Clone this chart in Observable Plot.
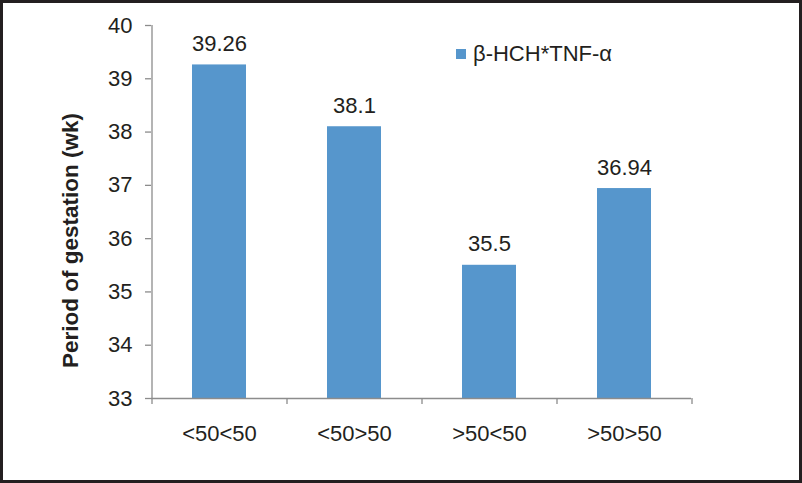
<!DOCTYPE html>
<html>
<head>
<meta charset="utf-8">
<script src="https://cdn.jsdelivr.net/npm/d3@7"></script>
<script src="https://cdn.jsdelivr.net/npm/@observablehq/plot@0.6"></script>
<style>
  html, body { margin: 0; padding: 0; background: #fff; }
  #wrap { position: relative; width: 802px; height: 483px; }
  #wrap svg { display: block; outline: 3px solid #231f20; outline-offset: -3px; }
  #legend { position: absolute; left: 456px; top: 41px; font: 22px "Liberation Sans", Arial, sans-serif; color: #231f20; display: flex; align-items: center; }
  #legend .sw { width: 10px; height: 10px; background: #5696cc; margin-right: 7px; }
</style>
</head>
<body>
<div id="wrap"></div>
<script>
const categories = ["<50<50", "<50>50", ">50<50", ">50>50"];
const values = [39.26, 38.1, 35.5, 36.94];
const labels = ["39.26", "38.1", "35.5", "36.94"];
const yTicks = [33, 34, 35, 36, 37, 38, 39, 40];
const seriesName = "β-HCH*TNF-α";
const yLabel = "Period of gestation (wk)";

const data = categories.map((c, i) => ({cat: c, v: values[i], label: labels[i]}));
const color = "#5696cc";
const axisColor = "#8c8c8c";
const textColor = "#231f20";

const W = 802, H = 483, mL = 151, mR = 111;
const plotW = W - mL - mR;
const step = plotW / categories.length;
const tickLen = 6;

const chart = Plot.plot({
  width: W,
  height: H,
  marginLeft: mL,
  marginRight: mR,
  marginTop: 25,
  marginBottom: 85,
  style: {fontFamily: "'Liberation Sans', Arial, sans-serif", fontSize: "22px", color: textColor, background: "#fff"},
  x: {domain: categories, paddingInner: 0.6, paddingOuter: 0.3, axis: null},
  y: {domain: [33, 40], axis: null},
  marks: [
    Plot.barY(data, {x: "cat", y1: 33, y2: "v", fill: color}),
    // y axis line
    Plot.ruleX([categories[0]], {x: d => d, dx: -step / 2, y1: 33, y2: 40, stroke: axisColor, strokeWidth: 1.3}),
    // y ticks
    Plot.ruleY(yTicks, {y: d => d, insetRight: plotW - tickLen, dx: -tickLen, stroke: axisColor, strokeWidth: 1.3}),
    Plot.text(yTicks, {y: d => d, text: d => String(d), frameAnchor: "left", textAnchor: "end", dx: -19, fill: textColor, fontSize: 22}),
    // x axis line
    Plot.ruleY([33], {stroke: axisColor, strokeWidth: 1.3}),
    // category boundary ticks
    Plot.ruleX(categories, {x: d => d, y1: 33, y2: 33, insetBottom: -tickLen, dx: -step / 2, stroke: axisColor, strokeWidth: 1.3}),
    Plot.ruleX(categories.slice(-1), {x: d => d, y1: 33, y2: 33, insetBottom: -tickLen, dx: step / 2, stroke: axisColor, strokeWidth: 1.3}),
    // x tick labels
    Plot.text(categories, {x: d => d, text: d => d, frameAnchor: "bottom", lineAnchor: "middle", dy: 35, fill: textColor, fontSize: 22}),
    // value labels
    Plot.text(data, {x: "cat", y: "v", text: "label", lineAnchor: "bottom", dy: -14, fill: textColor, fontSize: 22}),
    // y axis title
    Plot.text([yLabel], {frameAnchor: "left", textAnchor: "middle", dx: -81, dy: 28.5, rotate: -90, fontWeight: "bold", fontSize: 22.5, fill: textColor})
  ]
});

document.getElementById("wrap").appendChild(chart);

const leg = document.createElement("div");
leg.id = "legend";
leg.innerHTML = `<span class="sw"></span><span>${seriesName}</span>`;
document.getElementById("wrap").appendChild(leg);
</script>
</body>
</html>
